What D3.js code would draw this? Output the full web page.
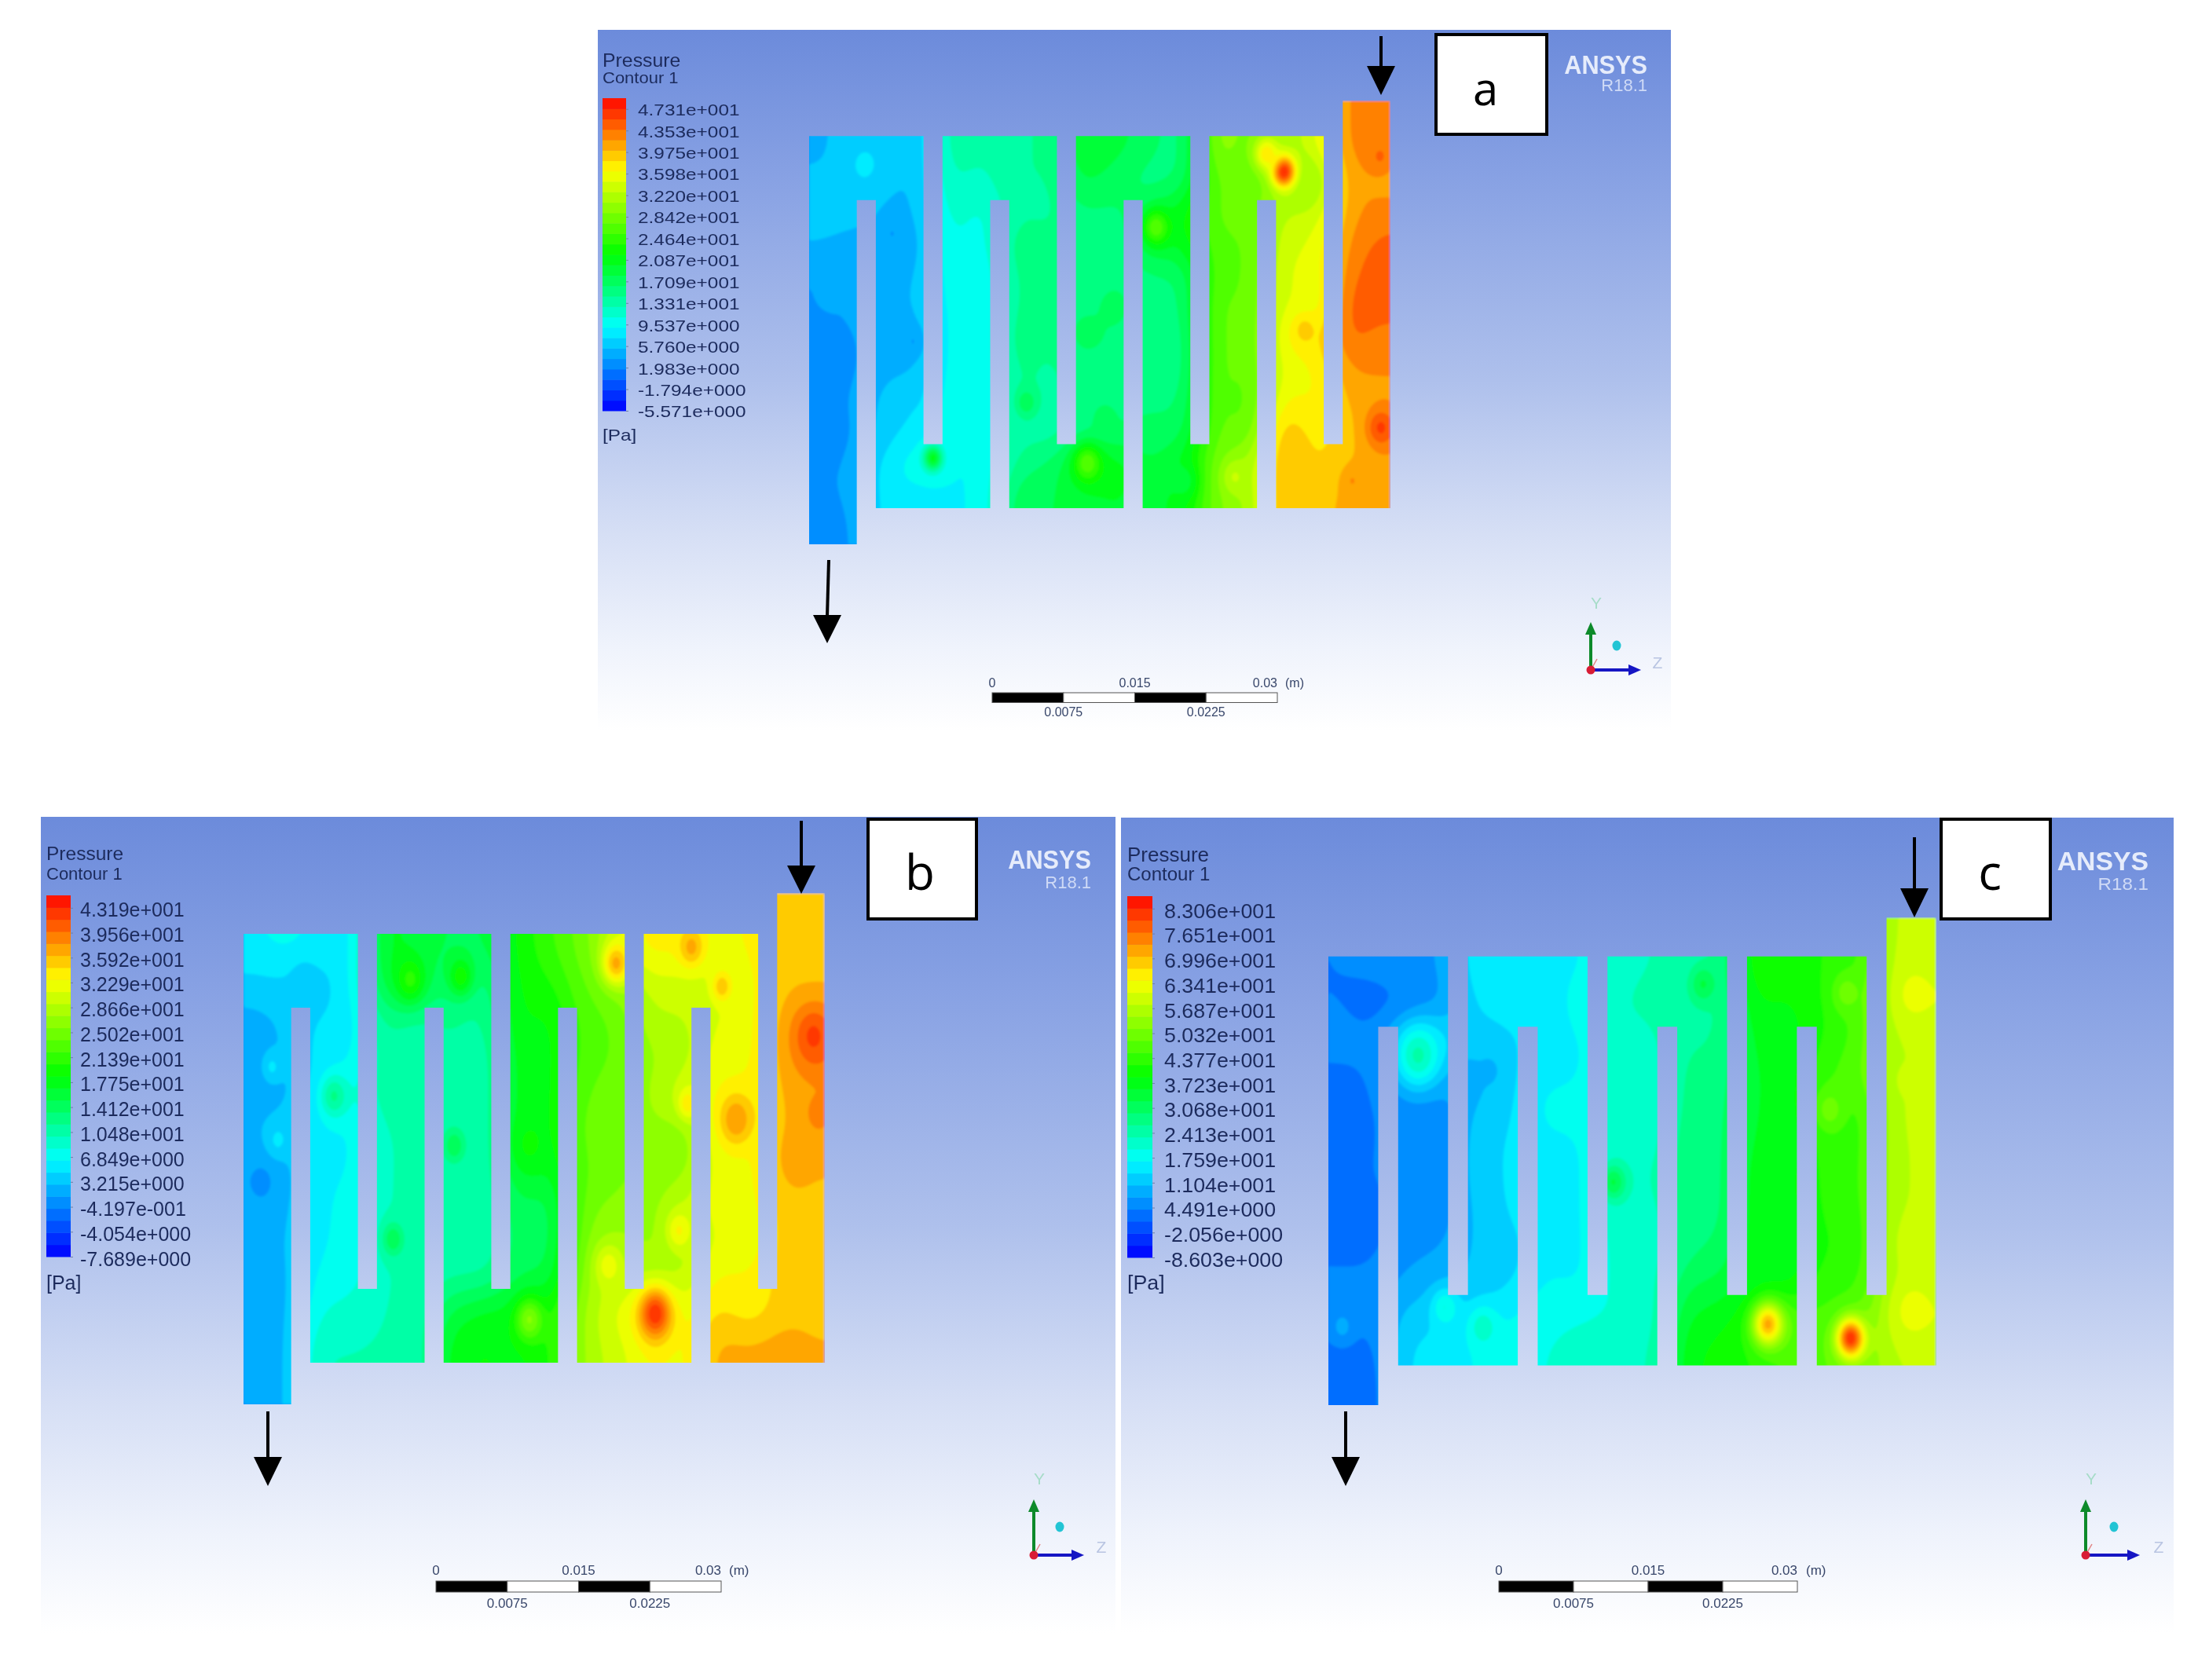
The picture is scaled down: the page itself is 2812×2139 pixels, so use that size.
<!DOCTYPE html>
<html>
<head>
<meta charset="utf-8">
<title>Pressure contours</title>
<script src="https://cdn.jsdelivr.net/npm/d3@7"></script>
<style>
  html, body { margin: 0; padding: 0; background: #fff; }
  svg { display: block; }
  text { font-family: "Liberation Sans", Arial, sans-serif; }
</style>
</head>
<body>
<div id="chart"></div>
<script>
// Legend labels as printed in each panel
const ticksA = ["4.731e+001","4.353e+001","3.975e+001","3.598e+001","3.220e+001","2.842e+001","2.464e+001","2.087e+001","1.709e+001","1.331e+001","9.537e+000","5.760e+000","1.983e+000","-1.794e+000","-5.571e+000"];
const ticksB = ["4.319e+001","3.956e+001","3.592e+001","3.229e+001","2.866e+001","2.502e+001","2.139e+001","1.775e+001","1.412e+001","1.048e+001","6.849e+000","3.215e+000","-4.197e-001","-4.054e+000","-7.689e+000"];
const ticksC = ["8.306e+001","7.651e+001","6.996e+001","6.341e+001","5.687e+001","5.032e+001","4.377e+001","3.723e+001","3.068e+001","2.413e+001","1.759e+001","1.104e+001","4.491e+000","-2.056e+000","-8.603e+000"];

// Pressure [Pa]: 14 rows (2.5 mm apart), 2 samples per channel leg
const pressureA = [
  [5,6,7,5,14,13,14,15,20,19,17,15,31,28,31,34,43,43],
  [5,6,7,5,14,13,14,15,20,19,17,15,31,28,31,35,43,42],
  [5.5,6,6,5,13,12,15,14,19,17,15,16,28,27,30,28,42,41],
  [8,7,5,5,12,10,14,14,16,16,18,22,28,28,33,33,41.5,42.5],
  [5,4,5,4,11,10,16,15,15,15,19,21,27,27,34,35,42.5,44.5],
  [3.5,3.5,5,5,10.5,9,15,15,15,15,16,16,27,27,35,35,43.5,45],
  [3.5,4,6,5,10,9,15,15,16,16,15,16,28,27,35,34,45,45],
  [2.5,3,5,4,10,9,16,14.5,18,16,15,15,28,27,37,38,44.5,42.5],
  [3,3,5,5,10,9,15,14,15,15,15,15,28,27,35,36,42,42],
  [3,3.5,6,7,10,9,15,14,16,16,16,16,28,26,37,36,40.5,41.5],
  [3,3,6,8,9.5,9,14,13,15,16,17,17,28,27,41,37,39.5,42],
  [3.5,3.5,8,11,9,9,15,17,22,22,18,21,29,32,41,38,40,41.5],
  [3.5,3.5,8,8,9,9,18,18,19,20,19,21,29,31,41,39,41,41.5],
  [3,3,8,8,9,9,18,18,19,20,19,21,29,31,41,39,41,41.5]
];
const pressureB = [
  [6,7,6,5,18,16,15,15,19,22,25,30,34,33,32,33,36,36],
  [6,7,6,5,18,16,15,15,19,22,25,30,34,33,32,33,35,35],
  [4,4,3,6,17,15,14,12,19,20,24,26,30,30,30,32,36,36],
  [2,3,5,5,12,11,12,11,19,18,23,24,29,29,31,32,37.5,38.5],
  [1.5,3,5,6,11,10,11,10,18,18,23,24,27,28,32,32,37.5,39.5],
  [1.5,2,5,8,11,10,10,10,18,18,24,25,28,31,33,33,36.5,37.5],
  [3,4,6,6,10,10,11,10,18,18,25,25,27,26,33,32,36.5,37.5],
  [1,1.5,6,6,10,10,10,10,17.5,17,24,25,26,26,32,32,37.5,36.5],
  [1.5,2,6,7,10,10,10,10,15,14,25,26,27,30,32,32,35.5,35.5],
  [2.5,2.5,6,7,10,10,10,10,14,14,26,28,27,28,31,31,35.5,35.5],
  [2,2,7,7,10,10,11,11,15,15,27,29,28,29,33,33,35.5,35.5],
  [2,2,8,9,10,10,16,18,18,20,28,32,34,32,35,33,35.5,35.5],
  [2,2,10,10,10,10,18,19,18,20,28,30,33,32,37,37,37.5,36.5],
  [2,2,10,10,10,10,18,19,18,20,28,30,33,32,37,37,37.5,36.5]
];
const pressureC = [
  [4,5,6,7,16,15,16,16,22,23,24,26,42,41,42,44,59,59],
  [4,5,6,7,16,15,16,16,22,23,24,26,42,41,42,44,60,60],
  [4,2,3,6,14,15,14,19,23,24,25,25,39,38,42,46,61,62],
  [6,5,12,15,12,13,15,16,22,22,26,26,37,37,42,46,58,58],
  [3,4,9,8,8,13,16,16,22,21,27,27,36,37,45,48,58,58],
  [2,4,5,5,11,13,18,18,23,21,27,28,36,37,46,43,58,59],
  [2,4,5,5,12,14,16,16,22,21,28,28,37,36,44,43,58,58],
  [4,4,5,5,12,14,16,16,22,23,28,28,38,38,43,44,58,58],
  [3,3,5,5,11,14,16,16,22,21,28,28,38,37,43,43,58,58],
  [3,3,6,7,11,12,16,16,21,20,28,30,38,36,42,42,59,61],
  [5,5,8,10,11,13,17,16,21,21,32,33,37,37,44,44,58,59],
  [6,5,12,13,15,17,19,20,20,20,36,38,42,48,46,48,60,62],
  [2,2,14,15,17,18,20,21,22,22,38,40,42,46,48,50,58,58],
  [1,1,14,15,17,18,20,21,22,22,38,40,42,46,48,50,58,58]
];

// Local peaks and dips: x [mm], y [mm], pressure [Pa], radius [mm]
const spotsA = [[49.8,5.6,48,0.9],[48,4.2,38,0.9],[60,25.8,46,1],[13,28.2,21,0.7],[29.2,28.6,27,1],[36.4,10,27,1],[44.7,29.7,33,0.9],[39.3,30,19,1],[57,30,42,0.7],
  [8.7,10.5,3.5,0.7],[2.2,15.3,5,0.7],[1,18.1,2,0.6],[10.9,19,3.5,0.7],[10.9,23.3,7,0.6],[22.8,23.8,18,0.7],[31,25.2,18,0.7],[32,16.2,18,0.8],[52,18.1,39,0.9],[59.9,4.4,44,0.8],[5.8,5.1,8,0.9]];
const spotsB = [[59.8,9.8,42,1.3],[43.2,28.8,43,1.2],[51.7,15.5,38,1.2],[39.1,4.8,37,1],[47,3.7,37,0.9],[17.5,5.9,21,1.1],[22.8,5.7,20,0.9],[9.5,13.9,12,1],[15.7,23.7,15,0.8],[38.3,25.5,32,1],[45.7,23.1,33,0.9],[50.2,6.4,36,0.7],[30,29.2,26,1],
  [3,11.9,5,0.7],[1.9,19.8,0.5,0.8],[3.6,16.9,5,0.8],[6.3,6.1,3,0.8],[22.1,17.3,15,0.8],[30,17.2,19,1.2],[60.3,15.1,39,0.8],[58.2,18,37,1],[46.6,14.4,34,0.7]];
const spotsC = [[44.1,29.2,72,1.1],[52.4,30.2,83,1],[9,9.9,24,1.5],[58.6,28.2,62,1.4],[58.8,5.5,62,1],[58.9,23.3,60,1],[37.6,4.8,33,0.9],[28.6,19,33,0.9],
  [1.4,29.4,8,0.9],[16.2,11,9,0.6],[11.7,28,20,0.9],[15.5,29.4,22,1],[50.3,13.8,50,1],[52,5.4,50,1],[58,11.7,60,0.6]];

// Channel geometry in mm: [x0, x1, y0, y1]
const channelRects = [
  [0,12,2.8,7.85],[14,26,2.8,7.85],[28,40,2.8,7.85],[42,54,2.8,7.85],
  [7,19,27.1,32.15],[21,33,27.1,32.15],[35,47,27.1,32.15],[49,61,27.1,32.15],
  [0,5,2.8,35],[7,12,2.8,32.15],[14,19,2.8,32.15],[21,26,2.8,32.15],[28,33,2.8,32.15],
  [35,40,2.8,32.15],[42,47,2.8,32.15],[49,54,2.8,32.15],[56,61,0,32.15]
];
const scaleTop = [0, 0.015, 0.03];
const scaleBottom = [0.0075, 0.0225];

const panels = [
  { id:"a", ticks:ticksA, field:pressureA, spots:spotsA,
    box:[761,38,2127,930], shape:[1030,1770,128,693],
    bar:[767,797,125,523], tickPad:15, tickDy:1.5, sx:1.22, fs:20,
    title:[767,85,23,1.08], sub:[767,106,20,1.1], unit:[767,561],
    sbar:[1263,1626,882,894.5], sTop:875, sBot:912, sFs:16, mX:1636,
    tag:[1828,44,141,127], tagX:1891, tagY:134, tagFs:58,
    ansys:[2097,94,116,1], inlet:[1758,46,121,84,1758], outlet:[1055,713,819,783,1053],
    triad:[2025,853,61,64,33,-31,7,-78,85,-2] },
  { id:"b", ticks:ticksB, field:pressureB, spots:spotsB,
    box:[52,1040,1420,2080], shape:[310,1050,1137,1788],
    bar:[59,90,1140,1600], tickPad:12, tickDy:3, sx:1, fs:25,
    title:[59,1095,24.5,1], sub:[59,1120,22,1], unit:[59,1642],
    sbar:[555,918,2013,2027], sTop:2005, sBot:2047, sFs:17, mX:928,
    tag:[1105,1043,138,127], tagX:1171, tagY:1133, tagFs:62,
    ansys:[1389,1106,1131,1], inlet:[1020,1045,1138,1102,1020], outlet:[341,1797,1892,1855,341],
    triad:[1316,1980,71,64,33,-36,7,-90,86,-3] },
  { id:"c", ticks:ticksC, field:pressureC, spots:spotsC,
    box:[1427,1041,2767,2080], shape:[1691,2465,1168,1789],
    bar:[1435,1467,1141,1601], tickPad:15, tickDy:3, sx:1.03, fs:26,
    title:[1435,1097,26,1], sub:[1435,1121,24,1], unit:[1435,1642],
    sbar:[1908,2288,2013,2027], sTop:2005, sBot:2047, sFs:17, mX:2299,
    tag:[2471,1043,139,127], tagX:2533, tagY:1133, tagFs:62,
    ansys:[2735,1108,1133,1.1], inlet:[2437,1066,1168,1131,2437], outlet:[1713,1797,1892,1855,1713],
    triad:[2655,1980,71,69,36,-36,7,-90,93,-3] }
];

const width = 2812;
const height = 2139;
const bandCount = 30;
const step = 0.25; // field resolution in mm

const svg = d3.select("#chart").append("svg")
    .attr("width", width)
    .attr("height", height);
const defs = svg.append("defs");

const grad = defs.append("linearGradient")
    .attr("id", "backdrop")
    .attr("x1", 0).attr("y1", 0).attr("x2", 0).attr("y2", 1);
[[0,"#6c8bdb"],[0.2,"#86a0e3"],[0.5,"#aec0ec"],[0.72,"#d6dff5"],[0.88,"#eff3fc"],[1,"#ffffff"]].forEach(s => {
    grad.append("stop").attr("offset", s[0]).attr("stop-color", s[1]);
});
defs.append("filter").attr("id", "soft").attr("x", "-5%").attr("y", "-5%").attr("width", "110%").attr("height", "110%")
    .append("feGaussianBlur").attr("stdDeviation", 1.5);
defs.append("filter").attr("id", "softText").attr("x", "-5%").attr("y", "-20%").attr("width", "110%").attr("height", "140%")
    .append("feGaussianBlur").attr("stdDeviation", 0.6);

// CFD-Post rainbow
const rainbow = d3.scaleLinear()
    .domain([0, 0.27, 0.5, 0.77, 1])
    .range(["#0000ff", "#00ffff", "#00ff00", "#ffff00", "#ff0000"]);

function buildField(p) {
    const cols = Math.round(61 / step);
    const rows = Math.round(35 / step);
    const values = new Float64Array(cols * rows);
    const nc = p.field[0].length, nr = p.field.length;
    for (let j = 0; j < rows; j++) {
        const ymm = (j + 0.5) * step;
        const fy = Math.max(0, Math.min(nr - 1.001, (ymm - 1.25) / 2.5));
        const r0 = Math.floor(fy), ty = fy - r0;
        for (let i = 0; i < cols; i++) {
            const xmm = (i + 0.5) * step;
            const fx = Math.max(0, Math.min(nc - 1.001, (xmm - 0.75) / 3.5));
            const c0 = Math.floor(fx), tx = fx - c0;
            values[j * cols + i] =
                (p.field[r0][c0] * (1 - tx) + p.field[r0][c0 + 1] * tx) * (1 - ty) +
                (p.field[r0 + 1][c0] * (1 - tx) + p.field[r0 + 1][c0 + 1] * tx) * ty;
        }
    }
    d3.blur2({data: values, width: cols, height: rows}, 4);
    for (const s of p.spots) {
        for (let j = 0; j < rows; j++) {
            for (let i = 0; i < cols; i++) {
                const dx = (i + 0.5) * step - s[0], dy = (j + 0.5) * step - s[1];
                const w = Math.exp(-(dx * dx + dy * dy) / (2 * s[3] * s[3]));
                const k = j * cols + i;
                values[k] += (s[2] - values[k]) * w;
            }
        }
    }
    return {values, cols, rows};
}

function drawPanel(p) {
    const g = svg.append("g").attr("class", "panel-" + p.id);
    const nums = p.ticks.map(Number);
    const lo = nums[nums.length - 1];
    const hi = nums[0] + (nums[0] - nums[1]) / 2;
    const colorT = d3.scaleLinear().domain([lo, hi]).range([0, 1]);
    const bandStep = (hi - lo) / bandCount;
    const bandColor = k => rainbow((k + 0.5) / bandCount);

    g.append("rect")
        .attr("x", p.box[0]).attr("y", p.box[1])
        .attr("width", p.box[2] - p.box[0]).attr("height", p.box[3] - p.box[1])
        .attr("fill", "url(#backdrop)");

    // Serpentine channel
    const xMm = d3.scaleLinear().domain([0, 61]).range([p.shape[0], p.shape[1]]);
    const yMm = d3.scaleLinear().domain([0, 35]).range([p.shape[2], p.shape[3]]);

    const clipId = "shape-" + p.id;
    defs.append("clipPath").attr("id", clipId)
        .selectAll("rect")
        .data(channelRects)
        .join("rect")
            .attr("x", d => xMm(d[0]))
            .attr("y", d => yMm(d[2]))
            .attr("width", d => xMm(d[1]) - xMm(d[0]))
            .attr("height", d => yMm(d[3]) - yMm(d[2]));

    const f = buildField(p);
    const thresholds = d3.range(1, bandCount).map(k => lo + k * bandStep);
    const contours = d3.contours().size([f.cols, f.rows]).smooth(true).thresholds(thresholds)(f.values);
    const proj = d3.geoTransform({
        point: function(x, y) { this.stream.point(xMm(x * step), yMm(y * step)); }
    });
    const path = d3.geoPath(proj);

    const fieldG = g.append("g").attr("clip-path", `url(#${clipId})`)
        .append("g").attr("filter", "url(#soft)");
    fieldG.append("rect")
        .attr("x", p.shape[0] - 10).attr("y", p.shape[2] - 10)
        .attr("width", p.shape[1] - p.shape[0] + 20).attr("height", p.shape[3] - p.shape[2] + 20)
        .attr("fill", bandColor(Math.max(0, Math.floor(colorT(d3.min(f.values)) * bandCount))));
    fieldG.selectAll("path")
        .data(contours)
        .join("path")
            .attr("d", path)
            .attr("fill", (d, i) => bandColor(i + 1));

    // Everything else carries the slight softness of the original screenshot
    const over = g.append("g").attr("filter", "url(#softText)");
    const ink = "#1c2b5c";

    // Colour bar
    const barY = d3.scaleLinear().domain([lo, hi]).range([p.bar[3], p.bar[2]]);
    over.append("g").selectAll("rect")
        .data(d3.range(bandCount))
        .join("rect")
            .attr("x", p.bar[0])
            .attr("width", p.bar[1] - p.bar[0])
            .attr("y", k => barY(lo + (k + 1) * bandStep))
            .attr("height", k => barY(lo + k * bandStep) - barY(lo + (k + 1) * bandStep) + 0.5)
            .attr("fill", bandColor);

    const axis = d3.axisRight(barY)
        .tickValues(nums)
        .tickFormat((d, i) => p.ticks[i])
        .tickSize(3)
        .tickPadding(0);
    const axisG = over.append("g")
        .attr("transform", `translate(${p.bar[1]},0)`)
        .call(axis);
    axisG.select(".domain").remove();
    axisG.selectAll(".tick line").attr("stroke", "#6f7fa8");
    axisG.selectAll(".tick text")
        .attr("x", 0)
        .attr("transform", `translate(${p.tickPad},${p.tickDy}) scale(${p.sx},1)`)
        .attr("font-family", "Liberation Sans")
        .attr("font-size", p.fs)
        .attr("fill", ink);

    const label = (x, y, s, fs, sx, fill, anchor, weight) => over.append("text")
        .attr("transform", `translate(${x},${y}) scale(${sx},1)`)
        .attr("font-size", fs)
        .attr("fill", fill)
        .attr("text-anchor", anchor || "start")
        .attr("font-weight", weight || "normal")
        .text(s);

    label(p.title[0], p.title[1], "Pressure", p.title[2], p.title[3], ink);
    label(p.sub[0], p.sub[1], "Contour 1", p.sub[2], p.sub[3], ink);
    label(p.unit[0], p.unit[1], "[Pa]", p.fs, p.sx, ink);

    // Scale bar
    const sX = d3.scaleLinear().domain([0, 0.03]).range([p.sbar[0], p.sbar[1]]);
    over.append("g").selectAll("rect")
        .data([0, 0.0075, 0.015, 0.0225])
        .join("rect")
            .attr("x", d => sX(d))
            .attr("y", p.sbar[2])
            .attr("width", sX(0.0075) - sX(0))
            .attr("height", p.sbar[3] - p.sbar[2])
            .attr("fill", (d, i) => i % 2 ? "#fff" : "#000")
            .attr("stroke", "#555")
            .attr("stroke-width", 1);
    const sInk = "#38466a";
    label(sX(0), p.sTop, "0", p.sFs, 1, sInk, "middle");
    label(sX(scaleTop[1]), p.sTop, "0.015", p.sFs, 1, sInk, "middle");
    label(sX(scaleTop[2]), p.sTop, "0.03", p.sFs, 1, sInk, "end");
    label(p.mX, p.sTop, "(m)", p.sFs, 1, sInk);
    scaleBottom.forEach(v => label(sX(v), p.sBot, String(v), p.sFs, 1, sInk, "middle"));

    // Brand
    label(p.ansys[0], p.ansys[1], "ANSYS", 33, 0.93 * p.ansys[3], "#e6ecfb", "end", "bold");
    label(p.ansys[0], p.ansys[2], "R18.1", 22, p.ansys[3], "#cfdaf6", "end");

    // Axis triad
    const t = p.triad, ox = t[0], oy = t[1];
    const tri = over.append("g");
    tri.append("line").attr("x1", ox).attr("y1", oy).attr("x2", ox).attr("y2", oy - t[2] + 14)
        .attr("stroke", "#118a2c").attr("stroke-width", 4);
    tri.append("path").attr("d", `M${ox - 7},${oy - t[2] + 16} L${ox},${oy - t[2]} L${ox + 7},${oy - t[2] + 16} Z`).attr("fill", "#118a2c");
    tri.append("line").attr("x1", ox).attr("y1", oy).attr("x2", ox + t[3] - 14).attr("y2", oy)
        .attr("stroke", "#1414c4").attr("stroke-width", 4);
    tri.append("path").attr("d", `M${ox + t[3] - 16},${oy - 7} L${ox + t[3]},${oy} L${ox + t[3] - 16},${oy + 7} Z`).attr("fill", "#1414c4");
    tri.append("line").attr("x1", ox).attr("y1", oy).attr("x2", ox + 8).attr("y2", oy - 14)
        .attr("stroke", "#e08080").attr("stroke-width", 1.5);
    tri.append("circle").attr("cx", ox).attr("cy", oy).attr("r", 5.5).attr("fill", "#d81e34");
    tri.append("ellipse").attr("cx", ox + t[4]).attr("cy", oy + t[5]).attr("rx", 5.5).attr("ry", 6.5).attr("fill", "#22c4d4");
    label(ox + t[6], oy + t[7], "Y", 21, 1, "#a6dcc8", "middle");
    label(ox + t[8], oy + t[9], "Z", 21, 1, "#b9c5e2", "middle");

    // Panel tag
    svg.append("rect")
        .attr("x", p.tag[0]).attr("y", p.tag[1])
        .attr("width", p.tag[2]).attr("height", p.tag[3])
        .attr("fill", "#fff").attr("stroke", "#000").attr("stroke-width", 4);
    svg.append("text")
        .attr("x", p.tagX).attr("y", p.tagY)
        .attr("font-size", p.tagFs)
        .attr("text-anchor", "middle")
        .style("font-family", "'Open Sans', sans-serif")
        .attr("fill", "#000")
        .text(p.id);

    // Flow arrows
    [p.inlet, p.outlet].forEach(a => {
        svg.append("line")
            .attr("x1", a[0]).attr("y1", a[1]).attr("x2", a[4]).attr("y2", a[3] + 2)
            .attr("stroke", "#000").attr("stroke-width", 4);
        svg.append("path")
            .attr("d", `M${a[4] - 18},${a[3]} L${a[4]},${a[2]} L${a[4] + 18},${a[3]} Z`)
            .attr("fill", "#000");
    });
}

panels.forEach(drawPanel);
</script>
</body>
</html>
